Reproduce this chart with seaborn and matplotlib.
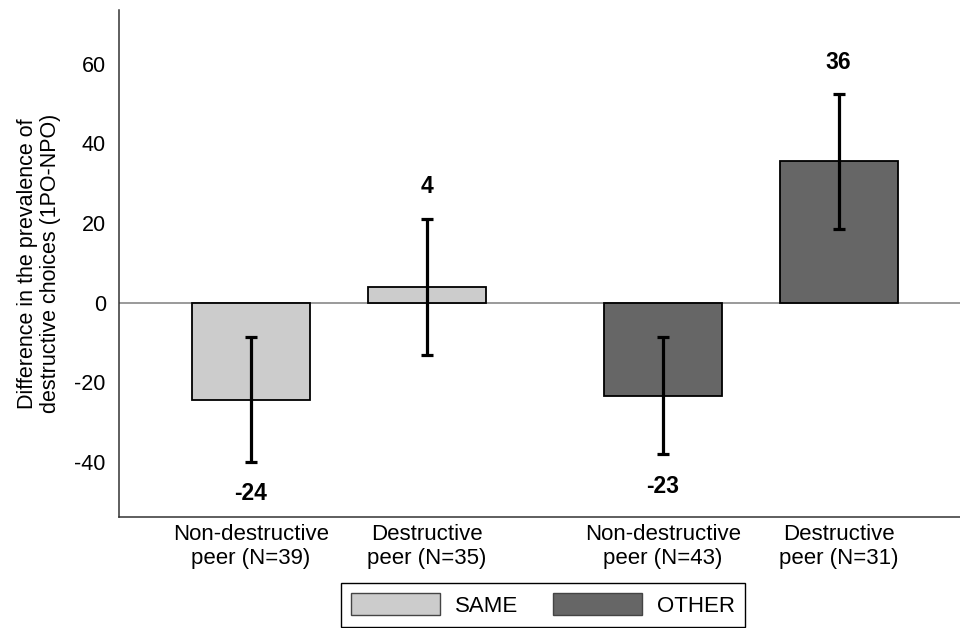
import numpy as np
import pandas as pd
import seaborn as sns
import matplotlib.pyplot as plt

# values
groups = ["SAME", "SAME", "OTHER", "OTHER"]
peer_labels = ["Non-destructive\npeer (N=39)", "Destructive\npeer (N=35)",
               "Non-destructive\npeer (N=43)", "Destructive\npeer (N=31)"]
diff = [-24.3, 4.0, -23.4, 35.5]
ci_low = [-40.0, -13.0, -38.0, 18.5]
ci_high = [-8.6, 21.1, -8.7, 52.4]
shown = ["-24", "4", "-23", "36"]

group_order = ["SAME", "OTHER"]
group_colors = {"SAME": "#cccccc", "OTHER": "#666666"}

sns.set_style("white")
plt.rcParams["font.family"] = ["Liberation Sans", "DejaVu Sans"]
plt.rcParams["axes.unicode_minus"] = False
for key in ["text.color", "axes.labelcolor", "xtick.color", "ytick.color"]:
    plt.rcParams[key] = "black"

# bar positions: two bars per group, wider gap between groups
group_step = 2.34
pos = [group_order.index(g) * group_step + (i % 2) for i, g in enumerate(groups)]

df = pd.DataFrame({"pos": pos, "diff": diff, "group": groups})

fig = plt.figure(figsize=(9.6, 6.28), dpi=100)
ax = fig.add_axes([0.124, 0.176, 0.876, 0.808])

ax.axhline(0, color="#7f7f7f", lw=1.1, zorder=0)

sns.barplot(data=df, x="pos", y="diff", hue="group", hue_order=group_order,
            palette=group_colors, native_scale=True, width=0.67, dodge=False,
            edgecolor="black", linewidth=1.3, errorbar=None, ax=ax, zorder=2)

# confidence intervals
mid = np.array(diff)
lo = mid - np.array(ci_low)
hi = np.array(ci_high) - mid
ax.errorbar(pos, mid, yerr=[lo, hi], fmt="none", ecolor="black",
            elinewidth=2.3, capsize=4, capthick=2.3, zorder=3)

# value labels beyond the interval ends
for x, d, l, h, s in zip(pos, diff, ci_low, ci_high, shown):
    if d >= 0:
        ax.text(x, h + 8, s, ha="center", va="center", fontsize=16.5,
                fontweight="bold")
    else:
        ax.text(x, l - 8, s, ha="center", va="center", fontsize=16.5,
                fontweight="bold")

ax.set_xlim(-0.75, 4.03)
ax.set_ylim(-53.9, 73.5)
ax.set_yticks([-40, -20, 0, 20, 40, 60])
ax.set_xticks(pos)
ax.set_xticklabels(peer_labels, fontsize=16, linespacing=1.15)
ax.tick_params(axis="x", length=0, pad=5)
ax.tick_params(axis="y", length=6.5, width=1, color="#333333", pad=3,
               labelsize=15.5)
ax.set_xlabel("")
ax.set_ylabel("Difference in the prevalence of\ndestructive choices (1PO-NPO)",
              fontsize=15.5, linespacing=1.1, labelpad=10)

for side in ["top", "right"]:
    ax.spines[side].set_visible(False)
for side in ["left", "bottom"]:
    ax.spines[side].set_color("#333333")
    ax.spines[side].set_linewidth(1.1)

ax.get_legend().remove()
handles = [plt.Rectangle((0, 0), 1, 1, facecolor=group_colors[g],
                         edgecolor="#444444", linewidth=1) for g in group_order]
leg = fig.legend(handles, group_order, loc="lower center", ncol=2,
                 bbox_to_anchor=(0.5656, -0.016), fontsize=16, frameon=True,
                 fancybox=False, edgecolor="black", framealpha=1,
                 handlelength=4.0, handleheight=1.15, handletextpad=0.65,
                 columnspacing=1.6, borderpad=0.45)
leg.get_frame().set_linewidth(1)

fig.savefig("out.png", dpi=100)
